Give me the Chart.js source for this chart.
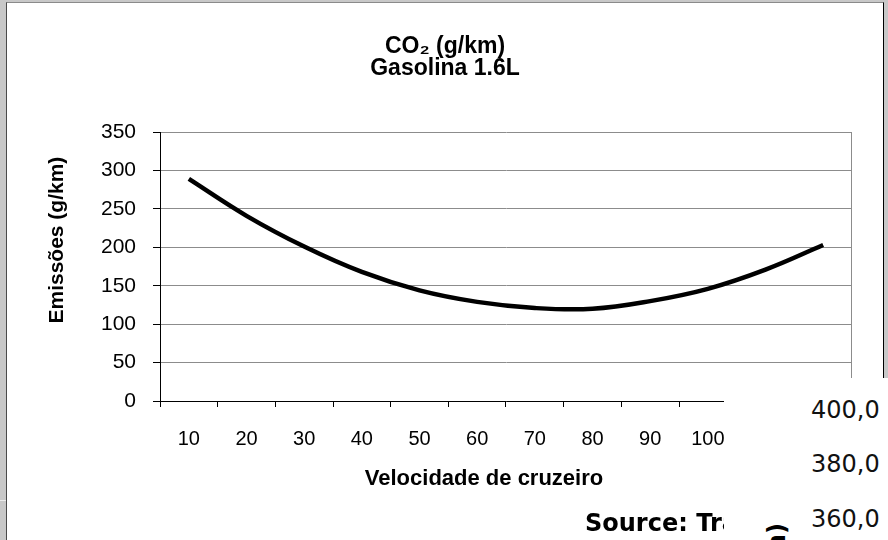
<!DOCTYPE html>
<html>
<head>
<meta charset="utf-8">
<script src="https://cdn.jsdelivr.net/npm/chart.js@4/dist/chart.umd.min.js"></script>
<style>
  body { margin: 0; width: 888px; height: 540px; overflow: hidden; position: relative; background: #c8c8c8; }
  #frame { position: absolute; left: 6px; top: 2px; width: 876px; height: 540px; background: #fff;
           border-left: 1px solid #4a4a4a; border-top: 1px solid #8a8a8a; border-right: 1px solid #000; }
  #cover { position: absolute; left: 724px; top: 378px; width: 164px; height: 162px; background: #fff; z-index: 3; }
  .num { position: absolute; left: 811px; font: 24px "DejaVu Sans", sans-serif; line-height: 28px; color: #111; z-index: 4; }
  #source { position: absolute; left: 585px; top: 509px; font: bold 24px "DejaVu Sans", sans-serif; line-height: 28px; color: #000; z-index: 2; white-space: nowrap; }
  #side { position: absolute; left: 763px; top: 523px; writing-mode: vertical-rl; transform: rotate(180deg);
          font: bold 24px "DejaVu Sans", sans-serif; line-height: 28px; color: #000; z-index: 4; white-space: nowrap; }
  #tick { position: absolute; left: 0; top: 500px; width: 6px; height: 1px; background: #ececec; }
</style>
</head>
<body>
<div id="frame"><canvas id="chart" width="876" height="537"></canvas></div>
<div id="tick"></div>
<div id="source">Source: Tra</div>
<div id="cover"></div>
<div class="num" style="top:396px">400,0</div>
<div class="num" style="top:450px">380,0</div>
<div class="num" style="top:505px">360,0</div>
<div id="side">Emissões (g/km)</div>
<script>
// velocidade de cruzeiro (km/h)
const speeds = ['10', '20', '30', '40', '50', '60', '70', '80', '90', '100', '110', '120'];
// emissões de CO2 (g/km) - gasolina 1.6L
const co2 = [289, 241, 201, 168, 144, 129, 121, 120, 130, 146, 171, 203];
const yMax = 350;
const yStep = 50;

const titleLines = ['CO\u2082 (g/km)', 'Gasolina 1.6L'];
const yTitle = 'Emissões (g/km)';
const xTitle = 'Velocidade de cruzeiro';

const arial = '"Liberation Sans", Arial, sans-serif';

// right border of the plot + axis titles (excel put them off-centre)
const plotExtras = {
    id: 'plotExtras',
    beforeDatasetsDraw(chart) {
        const ctx = chart.ctx, a = chart.chartArea;
        ctx.save();
        ctx.strokeStyle = '#8c8c8c';
        ctx.lineWidth = 1;
        ctx.beginPath();
        ctx.moveTo(Math.round(a.right) - 0.5, a.top);
        ctx.lineTo(Math.round(a.right) - 0.5, a.bottom);
        ctx.stroke();
        ctx.fillStyle = '#000';
        ctx.font = 'bold 22px ' + arial;
        ctx.textAlign = 'center';
        ctx.textBaseline = 'middle';
        ctx.fillText(xTitle, a.left + 324, 476);
        ctx.font = 'bold 21px ' + arial;
        ctx.translate(50, a.top + 108);
        ctx.rotate(-Math.PI / 2);
        ctx.fillText(yTitle, 0, 0);
        ctx.restore();
    }
};

new Chart(document.getElementById('chart'), {
    type: 'line',
    data: {
        labels: speeds,
        datasets: [{
            data: co2,
            borderColor: '#000',
            borderWidth: 4.5,
            tension: 0.4,
            pointRadius: 0,
            fill: false
        }]
    },
    options: {
        responsive: false,
        animation: false,
        layout: { padding: 0 },
        plugins: {
            legend: { display: false },
            tooltip: { enabled: false },
            title: {
                display: true,
                text: titleLines,
                color: '#000',
                font: { family: arial, size: 23, weight: 'bold', lineHeight: 0.98 },
                padding: { top: 32, bottom: 52 }
            }
        },
        scales: {
            x: {
                offset: true,
                afterFit: s => { s.height = 139; },
                grid: { offset: true, drawOnChartArea: false, tickLength: 6, tickColor: '#000' },
                border: { color: '#000', width: 1 },
                ticks: { color: '#000', font: { family: arial, size: 20 }, padding: 20, maxRotation: 0, autoSkip: false }
            },
            y: {
                min: 0,
                max: yMax,
                afterFit: s => { s.width = 153; },
                grid: { color: '#8c8c8c', tickLength: 7, tickColor: '#000' },
                border: { color: '#000', width: 1 },
                ticks: { stepSize: yStep, color: '#000', font: { family: arial, size: 21 }, padding: 17 }
            },
            // empty right axis: keeps the plot off the right edge while the title stays centred on the whole chart
            yRight: {
                position: 'right',
                afterFit: s => { s.width = 31; },
                grid: { drawOnChartArea: false, drawTicks: false },
                border: { display: false },
                ticks: { display: false }
            }
        }
    },
    plugins: [plotExtras]
});
</script>
</body>
</html>
